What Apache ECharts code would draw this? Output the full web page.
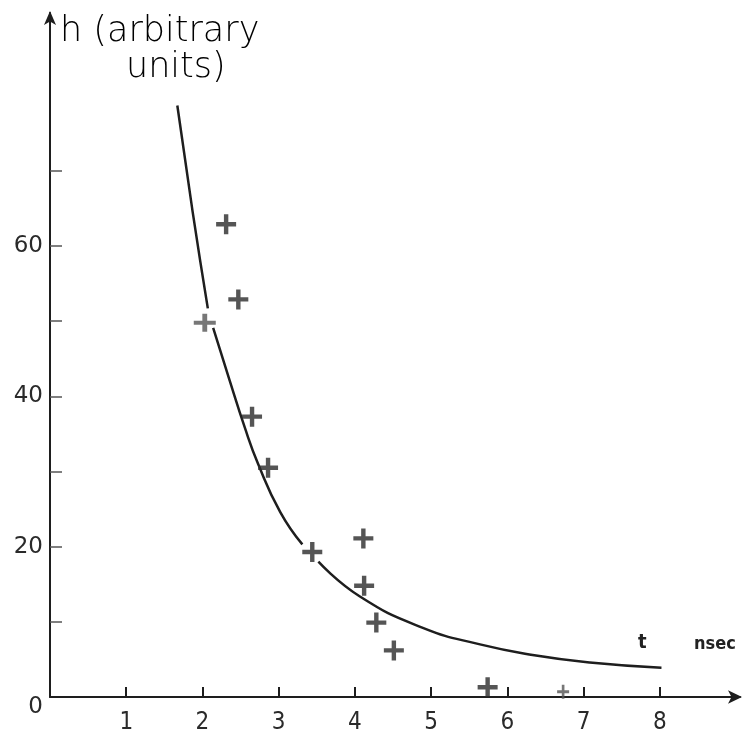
<!DOCTYPE html>
<html>
<head>
<meta charset="utf-8">
<script src="https://cdn.jsdelivr.net/npm/echarts@6/dist/echarts.min.js"></script>
<style>
html,body{margin:0;padding:0;background:#fff;}
#chart{width:745px;height:735px;}
</style>
</head>
<body>
<div id="chart"></div>
<script>
// measured points (t in nsec, h in arbitrary units)
const tPoints = [2.31, 2.47, 2.03, 2.65, 2.86, 3.44, 4.11, 4.12, 4.28, 4.51, 5.74, 6.73];
const hPoints = [62.9, 52.9, 49.8, 37.3, 30.5, 19.3, 21.1, 14.8, 9.9, 6.2, 1.3, 0.7];

// hand-drawn fitted curve (null = gap in the drawn line)
const curveT = [1.67, 1.87, 2.07, 2.10, 2.14, 2.36, 2.55, 2.73, 3.02, 3.31, 3.42, 3.52, 4.06, 4.89, 5.64, 6.33, 7.08, 8.02];
const curveH = [78.7, 64.6, 51.7, null, 49.1, 42.0, 36.0, 31.0, 24.6, 20.3, null, 18.0, 13.4, 9.2, 7.0, 5.6, 4.6, 3.9];

const xTicks = [1, 2, 3, 4, 5, 6, 7, 8];
const yTicks = [10, 20, 30, 40, 50, 60, 70];
const yLabels = [0, 20, 40, 60];

const chart = echarts.init(document.getElementById('chart'), null, {renderer: 'canvas'});

const plus = 'path://M-1.1,-5 L1.1,-5 L1.1,-1.1 L5,-1.1 L5,1.1 L1.1,1.1 L1.1,5 L-1.1,5 L-1.1,1.1 L-5,1.1 L-5,-1.1 L-1.1,-1.1 Z';

const scatterData = tPoints.map((t, i) => {
  const d = {value: [t, hPoints[i]]};
  if (i === 2) { d.symbolSize = [22, 18]; d.itemStyle = {color: '#555'}; }
  if (i === 11) { d.symbolSize = [12, 14]; d.itemStyle = {color: '#555'}; }
  return d;
});

const curveData = curveT.map((t, i) => curveH[i] === null ? [t, '-'] : [t, curveH[i]]);

const ink = '#1e1e1e';
const numFont = '"DejaVu Sans Condensed", "Liberation Sans Narrow", "DejaVu Sans", sans-serif';

chart.setOption({
  animation: false,
  backgroundColor: '#ffffff',
  grid: {left: 50, right: 5, top: 13, bottom: 37, containLabel: false},
  xAxis: {
    type: 'value', min: 0, max: 9.05, interval: 1,
    splitLine: {show: false},
    axisLine: {show: true, onZero: false, lineStyle: {color: ink, width: 2},
      symbol: ['none', 'arrow'], symbolSize: [10, 14], symbolOffset: [0, 2]},
    axisTick: {show: true, inside: true, length: 10, lineStyle: {color: ink, width: 2}, customValues: xTicks},
    axisLabel: {show: true, margin: 14, color: '#2a2a2a', fontSize: 24, fontFamily: numFont, customValues: xTicks}
  },
  yAxis: {
    type: 'value', min: 0, max: 91, interval: 10,
    splitLine: {show: false},
    axisLine: {show: true, onZero: false, lineStyle: {color: ink, width: 2},
      symbol: ['none', 'arrow'], symbolSize: [9, 14], symbolOffset: [0, 2]},
    axisTick: {show: true, inside: true, length: 12, lineStyle: {color: '#555', width: 1.5}, customValues: yTicks},
    axisLabel: {show: true, margin: 7, color: '#2a2a2a', fontSize: 23, fontFamily: '"DejaVu Sans", sans-serif',
      customValues: yLabels,
      formatter: v => v === 0 ? '{z|0}' : String(v),
      rich: {z: {fontSize: 23, fontFamily: '"DejaVu Sans", sans-serif', color: '#2a2a2a', padding: [20, 0, 0, 0]}}
    }
  },
  graphic: [
    {type: 'text', left: 60, top: 14, style: {text: 'h (arbitrary', font: '300 35px "DejaVu Sans", sans-serif', fill: '#000'}},
    {type: 'text', left: 126, top: 50, style: {text: 'units)', font: '300 35px "DejaVu Sans", sans-serif', fill: '#000'}},
    {type: 'text', left: 638, top: 633, style: {text: 't', font: 'bold 20px ' + numFont, fill: '#222'}},
    {type: 'text', left: 694, top: 635, style: {text: 'nsec', font: 'bold 18px ' + numFont, fill: '#222'}}
  ],
  series: [
    {
      type: 'line', data: curveData, smooth: 0.5, showSymbol: false, connectNulls: false,
      lineStyle: {color: ink, width: 2.5}, z: 2
    },
    {
      type: 'scatter', data: scatterData, symbol: plus, symbolSize: [20, 20],
      itemStyle: {color: '#2b2b2b'}, z: 3
    }
  ]
});
</script>
</body>
</html>
